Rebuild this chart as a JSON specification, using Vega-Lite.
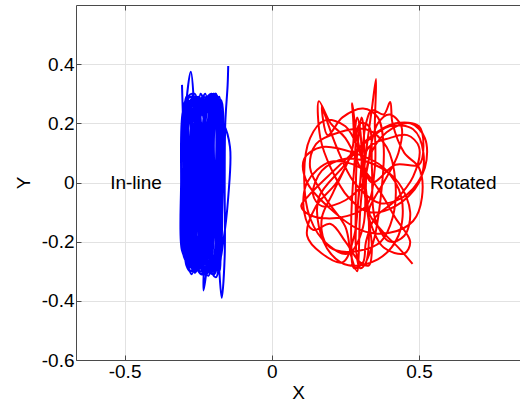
{
  "$schema": "https://vega.github.io/schema/vega-lite/v6.json",
  "width": 444,
  "height": 355,
  "autosize": {"type": "none"},
  "padding": {"left": 76, "top": 5, "right": 0, "bottom": 47},
  "config": {
    "view": {"stroke": null},
    "font": "Liberation Sans",
    "axis": {
      "labelFont": "Liberation Sans",
      "titleFont": "Liberation Sans",
      "labelFontSize": 19,
      "titleFontSize": 19,
      "titleFontWeight": "normal",
      "labelColor": "#000000",
      "titleColor": "#000000",
      "domainColor": "#4a4a4a",
      "tickColor": "#4a4a4a",
      "gridColor": "#e2e2e2",
      "tickSize": -5
    }
  },
  "datasets": {
    "traces": [
      {"s":"In-line","x":-0.305,"y":0.33},{"s":"In-line","x":-0.3,"y":0.15},{"s":"In-line","x":-0.295,"y":-0.15},{"s":"In-line","x":-0.285,"y":-0.27},{"s":"In-line","x":-0.265,"y":-0.15},{"s":"In-line","x":-0.262,"y":0.2},
      {"s":"In-line","x":-0.275,"y":0.374},{"s":"In-line","x":-0.292,"y":0.25},{"s":"In-line","x":-0.3,"y":-0.05},{"s":"In-line","x":-0.296,"y":-0.24},{"s":"In-line","x":-0.27,"y":-0.29},{"s":"In-line","x":-0.245,"y":-0.12},
      {"s":"In-line","x":-0.24,"y":0.24},{"s":"In-line","x":-0.225,"y":0.275},{"s":"In-line","x":-0.205,"y":0.2},{"s":"In-line","x":-0.21,"y":-0.2},{"s":"In-line","x":-0.232,"y":-0.3},{"s":"In-line","x":-0.255,"y":-0.24},
      {"s":"In-line","x":-0.262,"y":0.1},{"s":"In-line","x":-0.25,"y":0.27},{"s":"In-line","x":-0.23,"y":0.29},{"s":"In-line","x":-0.215,"y":0.25},{"s":"In-line","x":-0.2,"y":-0.1},{"s":"In-line","x":-0.215,"y":-0.315},
      {"s":"In-line","x":-0.24,"y":-0.27},{"s":"In-line","x":-0.28,"y":0.0},{"s":"In-line","x":-0.29,"y":0.23},{"s":"In-line","x":-0.27,"y":0.265},{"s":"In-line","x":-0.235,"y":0.1},{"s":"In-line","x":-0.23,"y":-0.25},
      {"s":"In-line","x":-0.232,"y":-0.365},{"s":"In-line","x":-0.222,"y":-0.3},{"s":"In-line","x":-0.2,"y":0.0},{"s":"In-line","x":-0.19,"y":0.26},{"s":"In-line","x":-0.178,"y":0.29},{"s":"In-line","x":-0.172,"y":0.2},
      {"s":"In-line","x":-0.175,"y":-0.15},{"s":"In-line","x":-0.19,"y":-0.28},{"s":"In-line","x":-0.215,"y":-0.2},{"s":"In-line","x":-0.222,"y":0.15},{"s":"In-line","x":-0.245,"y":0.28},{"s":"In-line","x":-0.268,"y":0.22},
      {"s":"In-line","x":-0.278,"y":-0.15},{"s":"In-line","x":-0.29,"y":-0.255},{"s":"In-line","x":-0.305,"y":-0.23},{"s":"In-line","x":-0.308,"y":0.0},{"s":"In-line","x":-0.302,"y":0.24},{"s":"In-line","x":-0.285,"y":0.28},
      {"s":"In-line","x":-0.255,"y":0.15},{"s":"In-line","x":-0.25,"y":-0.23},{"s":"In-line","x":-0.26,"y":-0.3},{"s":"In-line","x":-0.275,"y":-0.26},{"s":"In-line","x":-0.27,"y":0.05},{"s":"In-line","x":-0.25,"y":0.255},
      {"s":"In-line","x":-0.212,"y":0.28},{"s":"In-line","x":-0.19,"y":0.23},{"s":"In-line","x":-0.165,"y":0.2},{"s":"In-line","x":-0.142,"y":0.12},{"s":"In-line","x":-0.148,"y":-0.05},{"s":"In-line","x":-0.165,"y":-0.2},
      {"s":"In-line","x":-0.18,"y":-0.27},{"s":"In-line","x":-0.2,"y":-0.25},{"s":"In-line","x":-0.205,"y":0.05},{"s":"In-line","x":-0.2,"y":0.25},{"s":"In-line","x":-0.185,"y":0.28},{"s":"In-line","x":-0.175,"y":0.25},
      {"s":"In-line","x":-0.185,"y":-0.05},{"s":"In-line","x":-0.2,"y":-0.29},{"s":"In-line","x":-0.24,"y":-0.31},{"s":"In-line","x":-0.262,"y":-0.25},{"s":"In-line","x":-0.258,"y":0.1},{"s":"In-line","x":-0.245,"y":0.24},
      {"s":"In-line","x":-0.228,"y":0.21},{"s":"In-line","x":-0.222,"y":-0.05},{"s":"In-line","x":-0.218,"y":-0.27},{"s":"In-line","x":-0.19,"y":-0.32},{"s":"In-line","x":-0.175,"y":-0.23},{"s":"In-line","x":-0.168,"y":0.0},
      {"s":"In-line","x":-0.17,"y":0.23},{"s":"In-line","x":-0.195,"y":0.29},{"s":"In-line","x":-0.225,"y":0.24},{"s":"In-line","x":-0.24,"y":0.0},{"s":"In-line","x":-0.255,"y":-0.22},{"s":"In-line","x":-0.283,"y":-0.285},
      {"s":"In-line","x":-0.298,"y":-0.2},{"s":"In-line","x":-0.292,"y":0.1},{"s":"In-line","x":-0.282,"y":0.25},{"s":"In-line","x":-0.262,"y":0.285},{"s":"In-line","x":-0.24,"y":0.2},{"s":"In-line","x":-0.215,"y":-0.1},
      {"s":"In-line","x":-0.205,"y":-0.28},{"s":"In-line","x":-0.185,"y":-0.24},{"s":"In-line","x":-0.18,"y":0.1},{"s":"In-line","x":-0.183,"y":0.27},{"s":"In-line","x":-0.2,"y":0.265},{"s":"In-line","x":-0.21,"y":0.0},
      {"s":"In-line","x":-0.2,"y":-0.26},{"s":"In-line","x":-0.178,"y":-0.3},{"s":"In-line","x":-0.195,"y":0.05},{"s":"In-line","x":-0.21,"y":0.27},{"s":"In-line","x":-0.232,"y":0.28},{"s":"In-line","x":-0.245,"y":0.0},
      {"s":"In-line","x":-0.25,"y":-0.28},{"s":"In-line","x":-0.268,"y":-0.29},{"s":"In-line","x":-0.28,"y":0.1},{"s":"In-line","x":-0.282,"y":0.27},{"s":"In-line","x":-0.265,"y":0.26},{"s":"In-line","x":-0.258,"y":-0.1},
      {"s":"In-line","x":-0.262,"y":-0.28},{"s":"In-line","x":-0.245,"y":-0.27},{"s":"In-line","x":-0.228,"y":0.12},{"s":"In-line","x":-0.215,"y":0.28},{"s":"In-line","x":-0.196,"y":0.27},{"s":"In-line","x":-0.192,"y":-0.1},
      {"s":"In-line","x":-0.198,"y":-0.275},{"s":"In-line","x":-0.22,"y":-0.26},{"s":"In-line","x":-0.238,"y":0.05},{"s":"In-line","x":-0.255,"y":0.27},{"s":"In-line","x":-0.275,"y":0.25},{"s":"In-line","x":-0.288,"y":-0.05},
      {"s":"In-line","x":-0.29,"y":-0.27},{"s":"In-line","x":-0.272,"y":-0.275},{"s":"In-line","x":-0.252,"y":0.0},{"s":"In-line","x":-0.236,"y":0.26},{"s":"In-line","x":-0.22,"y":0.29},{"s":"In-line","x":-0.204,"y":0.1},
      {"s":"In-line","x":-0.188,"y":-0.2},{"s":"In-line","x":-0.176,"y":-0.28},{"s":"In-line","x":-0.17,"y":-0.2},{"s":"In-line","x":-0.172,"y":0.15},{"s":"In-line","x":-0.18,"y":0.28},{"s":"In-line","x":-0.2,"y":0.29},
      {"s":"In-line","x":-0.215,"y":0.1},{"s":"In-line","x":-0.225,"y":-0.22},{"s":"In-line","x":-0.242,"y":-0.3},{"s":"In-line","x":-0.26,"y":-0.27},{"s":"In-line","x":-0.272,"y":-0.05},{"s":"In-line","x":-0.278,"y":0.22},
      {"s":"In-line","x":-0.29,"y":0.29},{"s":"In-line","x":-0.3,"y":0.22},{"s":"In-line","x":-0.298,"y":-0.1},{"s":"In-line","x":-0.29,"y":-0.28},{"s":"In-line","x":-0.275,"y":-0.3},{"s":"In-line","x":-0.26,"y":-0.15},
      {"s":"In-line","x":-0.25,"y":0.2},{"s":"In-line","x":-0.242,"y":0.3},{"s":"In-line","x":-0.228,"y":0.26},{"s":"In-line","x":-0.225,"y":0.0},{"s":"In-line","x":-0.232,"y":-0.28},{"s":"In-line","x":-0.21,"y":-0.3},
      {"s":"In-line","x":-0.19,"y":-0.2},{"s":"In-line","x":-0.185,"y":0.2},{"s":"In-line","x":-0.19,"y":0.3},{"s":"In-line","x":-0.21,"y":0.26},{"s":"In-line","x":-0.22,"y":-0.05},{"s":"In-line","x":-0.205,"y":-0.27},
      {"s":"In-line","x":-0.185,"y":-0.29},{"s":"In-line","x":-0.18,"y":-0.1},{"s":"In-line","x":-0.19,"y":0.22},{"s":"In-line","x":-0.205,"y":0.28},{"s":"In-line","x":-0.225,"y":0.22},{"s":"In-line","x":-0.248,"y":-0.1},
      {"s":"In-line","x":-0.258,"y":-0.3},{"s":"In-line","x":-0.28,"y":-0.27},{"s":"In-line","x":-0.285,"y":0.0},{"s":"In-line","x":-0.275,"y":0.28},{"s":"In-line","x":-0.255,"y":0.29},{"s":"In-line","x":-0.238,"y":0.15},
      {"s":"In-line","x":-0.232,"y":-0.15},{"s":"In-line","x":-0.218,"y":-0.29},{"s":"In-line","x":-0.196,"y":-0.31},{"s":"In-line","x":-0.18,"y":-0.25},{"s":"In-line","x":-0.175,"y":0.05},{"s":"In-line","x":-0.178,"y":0.26},
      {"s":"In-line","x":-0.192,"y":0.3},{"s":"In-line","x":-0.22,"y":0.27},{"s":"In-line","x":-0.24,"y":-0.05},{"s":"In-line","x":-0.268,"y":-0.28},{"s":"In-line","x":-0.295,"y":-0.26},{"s":"In-line","x":-0.3,"y":0.05},
      {"s":"In-line","x":-0.296,"y":0.27},{"s":"In-line","x":-0.27,"y":0.3},{"s":"In-line","x":-0.245,"y":0.12},{"s":"In-line","x":-0.238,"y":-0.22},{"s":"In-line","x":-0.225,"y":-0.3},{"s":"In-line","x":-0.205,"y":-0.24},
      {"s":"In-line","x":-0.2,"y":0.15},{"s":"In-line","x":-0.205,"y":0.3},{"s":"In-line","x":-0.23,"y":0.27},{"s":"In-line","x":-0.26,"y":0.05},{"s":"In-line","x":-0.272,"y":-0.22},{"s":"In-line","x":-0.262,"y":-0.305},
      {"s":"In-line","x":-0.235,"y":-0.24},{"s":"In-line","x":-0.212,"y":0.05},{"s":"In-line","x":-0.19,"y":0.25},{"s":"In-line","x":-0.172,"y":0.27},{"s":"In-line","x":-0.166,"y":0.1},{"s":"In-line","x":-0.17,"y":-0.15},
      {"s":"In-line","x":-0.178,"y":-0.3},{"s":"In-line","x":-0.19,"y":-0.1},{"s":"In-line","x":-0.2,"y":0.27},{"s":"In-line","x":-0.222,"y":0.285},{"s":"In-line","x":-0.232,"y":0.05},{"s":"In-line","x":-0.24,"y":-0.26},
      {"s":"In-line","x":-0.256,"y":-0.29},{"s":"In-line","x":-0.266,"y":0.0},{"s":"In-line","x":-0.27,"y":0.27},{"s":"In-line","x":-0.286,"y":0.26},{"s":"In-line","x":-0.294,"y":-0.05},{"s":"In-line","x":-0.285,"y":-0.29},
      {"s":"In-line","x":-0.262,"y":-0.3},{"s":"In-line","x":-0.25,"y":-0.05},{"s":"In-line","x":-0.242,"y":0.25},{"s":"In-line","x":-0.226,"y":0.3},{"s":"In-line","x":-0.212,"y":0.2},{"s":"In-line","x":-0.208,"y":-0.15},
      {"s":"In-line","x":-0.195,"y":-0.3},{"s":"In-line","x":-0.182,"y":-0.27},{"s":"In-line","x":-0.176,"y":0.0},{"s":"In-line","x":-0.174,"y":0.24},{"s":"In-line","x":-0.188,"y":0.295},{"s":"In-line","x":-0.208,"y":0.22},
      {"s":"In-line","x":-0.218,"y":-0.1},{"s":"In-line","x":-0.228,"y":-0.29},{"s":"In-line","x":-0.248,"y":-0.26},{"s":"In-line","x":-0.262,"y":0.02},{"s":"In-line","x":-0.268,"y":0.24},{"s":"In-line","x":-0.248,"y":0.29},
      {"s":"In-line","x":-0.23,"y":0.2},{"s":"In-line","x":-0.216,"y":-0.08},{"s":"In-line","x":-0.212,"y":-0.3},{"s":"In-line","x":-0.19,"y":-0.28},{"s":"In-line","x":-0.18,"y":0.0},{"s":"In-line","x":-0.185,"y":0.26},
      {"s":"In-line","x":-0.205,"y":0.295},{"s":"In-line","x":-0.238,"y":0.26},{"s":"In-line","x":-0.255,"y":0.0},{"s":"In-line","x":-0.278,"y":-0.28},{"s":"In-line","x":-0.296,"y":-0.22},{"s":"In-line","x":-0.3,"y":0.1},
      {"s":"In-line","x":-0.288,"y":0.28},{"s":"In-line","x":-0.264,"y":0.29},{"s":"In-line","x":-0.252,"y":0.1},{"s":"In-line","x":-0.246,"y":-0.2},{"s":"In-line","x":-0.232,"y":-0.31},{"s":"In-line","x":-0.208,"y":-0.27},
      {"s":"In-line","x":-0.2,"y":0.0},{"s":"In-line","x":-0.192,"y":0.27},{"s":"In-line","x":-0.174,"y":0.28},{"s":"In-line","x":-0.168,"y":0.05},{"s":"In-line","x":-0.176,"y":-0.22},{"s":"In-line","x":-0.196,"y":-0.29},
      {"s":"In-line","x":-0.222,"y":-0.28},{"s":"In-line","x":-0.236,"y":-0.05},{"s":"In-line","x":-0.244,"y":0.22},{"s":"In-line","x":-0.262,"y":0.3},{"s":"In-line","x":-0.282,"y":0.24},{"s":"In-line","x":-0.29,"y":0.0},
      {"s":"In-line","x":-0.292,"y":-0.24},{"s":"In-line","x":-0.272,"y":-0.31},{"s":"In-line","x":-0.252,"y":-0.2},{"s":"In-line","x":-0.24,"y":0.1},{"s":"In-line","x":-0.222,"y":0.27},{"s":"In-line","x":-0.198,"y":0.3},
      {"s":"In-line","x":-0.185,"y":0.15},{"s":"In-line","x":-0.186,"y":-0.15},{"s":"In-line","x":-0.2,"y":-0.31},{"s":"In-line","x":-0.226,"y":-0.27},{"s":"In-line","x":-0.23,"y":0.0},{"s":"In-line","x":-0.214,"y":0.26},
      {"s":"In-line","x":-0.196,"y":0.24},{"s":"In-line","x":-0.194,"y":-0.05},{"s":"In-line","x":-0.214,"y":-0.28},{"s":"In-line","x":-0.244,"y":-0.29},{"s":"In-line","x":-0.264,"y":-0.1},{"s":"In-line","x":-0.276,"y":0.2},
      {"s":"In-line","x":-0.27,"y":0.29},{"s":"In-line","x":-0.25,"y":0.24},{"s":"In-line","x":-0.234,"y":-0.05},{"s":"In-line","x":-0.244,"y":-0.28},{"s":"In-line","x":-0.27,"y":-0.27},{"s":"In-line","x":-0.282,"y":-0.05},
      {"s":"In-line","x":-0.28,"y":0.25},{"s":"In-line","x":-0.26,"y":0.28},{"s":"In-line","x":-0.236,"y":0.12},{"s":"In-line","x":-0.22,"y":-0.2},{"s":"In-line","x":-0.2,"y":-0.3},{"s":"In-line","x":-0.18,"y":-0.2},
      {"s":"In-line","x":-0.178,"y":-0.3},{"s":"In-line","x":-0.17,"y":-0.39},{"s":"In-line","x":-0.16,"y":-0.25},{"s":"In-line","x":-0.16,"y":0.0},{"s":"In-line","x":-0.158,"y":0.2},{"s":"In-line","x":-0.15,"y":0.33},
      {"s":"In-line","x":-0.148,"y":0.394},

      {"s":"Rotated","x":0.3,"y":0.05},{"s":"Rotated","x":0.25,"y":0.15},{"s":"Rotated","x":0.2,"y":0.2},{"s":"Rotated","x":0.16,"y":0.275},{"s":"Rotated","x":0.165,"y":0.15},{"s":"Rotated","x":0.2,"y":0.05},
      {"s":"Rotated","x":0.26,"y":-0.05},{"s":"Rotated","x":0.33,"y":-0.1},{"s":"Rotated","x":0.42,"y":-0.08},{"s":"Rotated","x":0.5,"y":0.0},{"s":"Rotated","x":0.515,"y":0.1},{"s":"Rotated","x":0.48,"y":0.18},
      {"s":"Rotated","x":0.4,"y":0.19},{"s":"Rotated","x":0.3,"y":0.12},{"s":"Rotated","x":0.2,"y":0.03},{"s":"Rotated","x":0.12,"y":-0.05},{"s":"Rotated","x":0.1,"y":-0.08},{"s":"Rotated","x":0.13,"y":-0.11},
      {"s":"Rotated","x":0.22,"y":-0.12},{"s":"Rotated","x":0.32,"y":-0.08},{"s":"Rotated","x":0.35,"y":0.05},{"s":"Rotated","x":0.35,"y":0.2},{"s":"Rotated","x":0.354,"y":0.35},{"s":"Rotated","x":0.34,"y":0.25},
      {"s":"Rotated","x":0.32,"y":0.1},{"s":"Rotated","x":0.3,"y":-0.1},{"s":"Rotated","x":0.295,"y":-0.25},{"s":"Rotated","x":0.29,"y":-0.3},{"s":"Rotated","x":0.27,"y":-0.25},{"s":"Rotated","x":0.25,"y":-0.15},
      {"s":"Rotated","x":0.18,"y":-0.05},{"s":"Rotated","x":0.13,"y":0.05},{"s":"Rotated","x":0.15,"y":0.13},{"s":"Rotated","x":0.23,"y":0.17},{"s":"Rotated","x":0.32,"y":0.18},{"s":"Rotated","x":0.39,"y":0.12},
      {"s":"Rotated","x":0.42,"y":0.0},{"s":"Rotated","x":0.41,"y":-0.12},{"s":"Rotated","x":0.37,"y":-0.2},{"s":"Rotated","x":0.3,"y":-0.23},{"s":"Rotated","x":0.22,"y":-0.23},{"s":"Rotated","x":0.18,"y":-0.2},
      {"s":"Rotated","x":0.17,"y":-0.12},{"s":"Rotated","x":0.21,"y":-0.03},{"s":"Rotated","x":0.275,"y":0.12},{"s":"Rotated","x":0.273,"y":0.268},{"s":"Rotated","x":0.285,"y":0.18},{"s":"Rotated","x":0.31,"y":0.05},
      {"s":"Rotated","x":0.33,"y":-0.15},{"s":"Rotated","x":0.32,"y":-0.27},{"s":"Rotated","x":0.3,"y":-0.29},{"s":"Rotated","x":0.285,"y":-0.2},{"s":"Rotated","x":0.3,"y":0.0},{"s":"Rotated","x":0.32,"y":0.2},
      {"s":"Rotated","x":0.34,"y":0.245},{"s":"Rotated","x":0.38,"y":0.23},{"s":"Rotated","x":0.402,"y":0.272},{"s":"Rotated","x":0.41,"y":0.2},{"s":"Rotated","x":0.45,"y":0.1},{"s":"Rotated","x":0.5,"y":0.05},
      {"s":"Rotated","x":0.51,"y":-0.05},{"s":"Rotated","x":0.48,"y":-0.13},{"s":"Rotated","x":0.4,"y":-0.17},{"s":"Rotated","x":0.3,"y":-0.16},{"s":"Rotated","x":0.2,"y":-0.09},{"s":"Rotated","x":0.12,"y":0.0},
      {"s":"Rotated","x":0.11,"y":0.08},{"s":"Rotated","x":0.17,"y":0.12},{"s":"Rotated","x":0.28,"y":0.1},{"s":"Rotated","x":0.38,"y":0.05},{"s":"Rotated","x":0.44,"y":-0.05},{"s":"Rotated","x":0.43,"y":-0.18},
      {"s":"Rotated","x":0.36,"y":-0.26},{"s":"Rotated","x":0.26,"y":-0.28},{"s":"Rotated","x":0.2,"y":-0.24},{"s":"Rotated","x":0.16,"y":-0.15},{"s":"Rotated","x":0.16,"y":-0.05},{"s":"Rotated","x":0.24,"y":0.05},
      {"s":"Rotated","x":0.33,"y":0.15},{"s":"Rotated","x":0.42,"y":0.2},{"s":"Rotated","x":0.5,"y":0.19},{"s":"Rotated","x":0.515,"y":0.12},{"s":"Rotated","x":0.5,"y":0.06},{"s":"Rotated","x":0.42,"y":0.06},
      {"s":"Rotated","x":0.34,"y":0.0},{"s":"Rotated","x":0.3,"y":0.1},{"s":"Rotated","x":0.25,"y":0.19},{"s":"Rotated","x":0.18,"y":0.21},{"s":"Rotated","x":0.13,"y":0.15},{"s":"Rotated","x":0.11,"y":0.03},
      {"s":"Rotated","x":0.13,"y":-0.12},{"s":"Rotated","x":0.19,"y":-0.21},{"s":"Rotated","x":0.26,"y":-0.24},{"s":"Rotated","x":0.31,"y":-0.15},{"s":"Rotated","x":0.315,"y":0.05},{"s":"Rotated","x":0.31,"y":0.2},
      {"s":"Rotated","x":0.305,"y":0.22},{"s":"Rotated","x":0.29,"y":0.1},{"s":"Rotated","x":0.285,"y":-0.1},{"s":"Rotated","x":0.29,"y":-0.25},{"s":"Rotated","x":0.31,"y":-0.28},{"s":"Rotated","x":0.345,"y":-0.2},
      {"s":"Rotated","x":0.37,"y":-0.05},{"s":"Rotated","x":0.38,"y":0.12},{"s":"Rotated","x":0.36,"y":0.22},{"s":"Rotated","x":0.31,"y":0.25},{"s":"Rotated","x":0.24,"y":0.22},{"s":"Rotated","x":0.19,"y":0.16},
      {"s":"Rotated","x":0.17,"y":0.258},{"s":"Rotated","x":0.18,"y":0.23},{"s":"Rotated","x":0.22,"y":0.12},{"s":"Rotated","x":0.28,"y":0.0},{"s":"Rotated","x":0.37,"y":-0.07},{"s":"Rotated","x":0.46,"y":-0.04},
      {"s":"Rotated","x":0.52,"y":0.05},{"s":"Rotated","x":0.52,"y":0.15},{"s":"Rotated","x":0.47,"y":0.2},{"s":"Rotated","x":0.39,"y":0.17},{"s":"Rotated","x":0.33,"y":0.08},{"s":"Rotated","x":0.32,"y":-0.05},
      {"s":"Rotated","x":0.34,"y":-0.22},{"s":"Rotated","x":0.33,"y":-0.28},{"s":"Rotated","x":0.3,"y":-0.27},{"s":"Rotated","x":0.25,"y":-0.2},{"s":"Rotated","x":0.2,"y":-0.14},{"s":"Rotated","x":0.14,"y":-0.16},
      {"s":"Rotated","x":0.11,"y":-0.1},{"s":"Rotated","x":0.12,"y":0.0},{"s":"Rotated","x":0.2,"y":0.07},{"s":"Rotated","x":0.3,"y":0.05},{"s":"Rotated","x":0.36,"y":-0.02},{"s":"Rotated","x":0.42,"y":-0.12},
      {"s":"Rotated","x":0.47,"y":-0.2},{"s":"Rotated","x":0.45,"y":-0.24},{"s":"Rotated","x":0.38,"y":-0.22},{"s":"Rotated","x":0.33,"y":-0.12},{"s":"Rotated","x":0.31,"y":0.02},{"s":"Rotated","x":0.3,"y":0.18},
      {"s":"Rotated","x":0.29,"y":0.22},{"s":"Rotated","x":0.27,"y":0.1},{"s":"Rotated","x":0.22,"y":0.0},{"s":"Rotated","x":0.15,"y":-0.08},{"s":"Rotated","x":0.12,"y":-0.18},{"s":"Rotated","x":0.17,"y":-0.24},
      {"s":"Rotated","x":0.24,"y":-0.27},{"s":"Rotated","x":0.28,"y":-0.18},{"s":"Rotated","x":0.3,"y":0.0},{"s":"Rotated","x":0.33,"y":0.12},{"s":"Rotated","x":0.4,"y":0.15},{"s":"Rotated","x":0.46,"y":0.16},
      {"s":"Rotated","x":0.5,"y":0.12},{"s":"Rotated","x":0.48,"y":0.02},{"s":"Rotated","x":0.42,"y":-0.06},{"s":"Rotated","x":0.35,"y":-0.12},{"s":"Rotated","x":0.32,"y":-0.2},{"s":"Rotated","x":0.31,"y":-0.27},
      {"s":"Rotated","x":0.28,"y":-0.29},{"s":"Rotated","x":0.27,"y":-0.2},{"s":"Rotated","x":0.28,"y":0.05},{"s":"Rotated","x":0.3,"y":0.2},{"s":"Rotated","x":0.33,"y":0.19},{"s":"Rotated","x":0.34,"y":0.05},
      {"s":"Rotated","x":0.35,"y":-0.12},{"s":"Rotated","x":0.4,"y":-0.2},{"s":"Rotated","x":0.45,"y":-0.18},{"s":"Rotated","x":0.47,"y":-0.1},{"s":"Rotated","x":0.43,"y":0.0},{"s":"Rotated","x":0.35,"y":0.06},
      {"s":"Rotated","x":0.25,"y":0.08},{"s":"Rotated","x":0.17,"y":0.04},{"s":"Rotated","x":0.14,"y":-0.04},{"s":"Rotated","x":0.17,"y":-0.08},{"s":"Rotated","x":0.25,"y":-0.06},{"s":"Rotated","x":0.31,"y":0.0},
      {"s":"Rotated","x":0.34,"y":0.14},{"s":"Rotated","x":0.36,"y":0.2},{"s":"Rotated","x":0.4,"y":0.23},{"s":"Rotated","x":0.44,"y":0.19},{"s":"Rotated","x":0.43,"y":0.1},{"s":"Rotated","x":0.38,"y":0.0},
      {"s":"Rotated","x":0.35,"y":-0.05},{"s":"Rotated","x":0.33,"y":-0.1},{"s":"Rotated","x":0.38,"y":-0.17},{"s":"Rotated","x":0.43,"y":-0.22},{"s":"Rotated","x":0.478,"y":-0.275}
    ],
    "labels": [
      {"t": "In-line", "x": -0.549, "y": 0.0},
      {"t": "Rotated", "x": 0.537, "y": 0.0}
    ]
  },
  "layer": [
    {
      "data": {"name": "traces"},
      "mark": {"type": "line", "interpolate": "catmull-rom", "strokeWidth": 2, "clip": true},
      "encoding": {
        "x": {
          "field": "x",
          "type": "quantitative",
          "scale": {"domain": [-0.665, 0.843], "nice": false, "zero": false},
          "axis": {
            "orient": "bottom",
            "values": [-0.5, 0, 0.5],
            "labelExpr": "'' + datum.value",
            "grid": true,
            "title": "X",
            "labelPadding": 7,
            "titlePadding": 2
          }
        },
        "y": {
          "field": "y",
          "type": "quantitative",
          "scale": {"domain": [-0.6, 0.6], "nice": false, "zero": false},
          "axis": {
            "orient": "left",
            "values": [-0.6, -0.4, -0.2, 0, 0.2, 0.4],
            "labelExpr": "'' + datum.value",
            "grid": true,
            "title": "Y",
            "labelPadding": 7,
            "titlePadding": 8
          }
        },
        "color": {
          "field": "s",
          "type": "nominal",
          "scale": {"domain": ["In-line", "Rotated"], "range": ["#0000ff", "#ff0000"]},
          "legend": null
        },
        "order": {"value": null}
      }
    },
    {
      "data": {"name": "labels"},
      "mark": {"type": "text", "align": "left", "baseline": "middle", "fontSize": 19, "font": "Liberation Sans", "color": "#000000"},
      "encoding": {
        "x": {
          "field": "x",
          "type": "quantitative",
          "axis": {
            "orient": "top",
            "values": [-0.5, 0, 0.5],
            "labels": false,
            "grid": false,
            "title": null
          }
        },
        "y": {"field": "y", "type": "quantitative"},
        "text": {"field": "t"}
      }
    }
  ],
  "resolve": {"axis": {"x": "independent"}}
}
